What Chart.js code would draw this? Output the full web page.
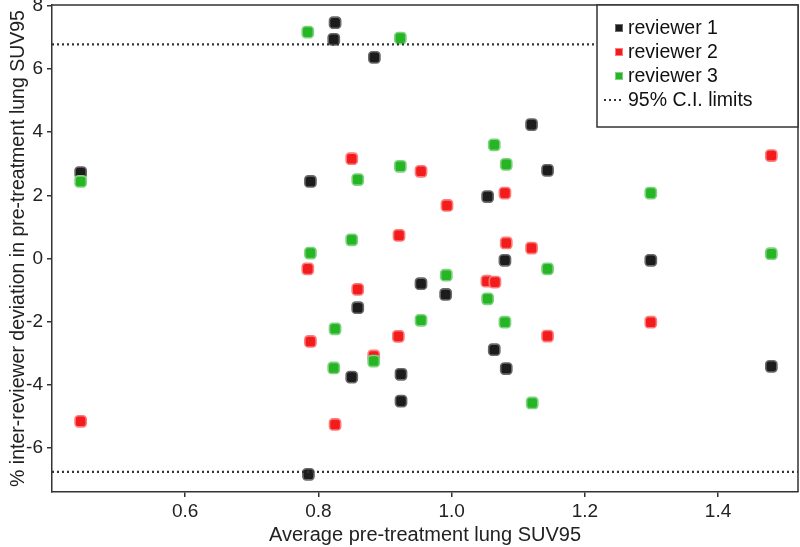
<!DOCTYPE html>
<html>
<head>
<meta charset="utf-8">
<script src="https://cdn.jsdelivr.net/npm/chart.js@4/dist/chart.umd.min.js"></script>
<style>
    html, body { margin: 0; padding: 0; background: #fff; }
    #wrap { width: 800px; height: 547px; position: relative; }
</style>
</head>
<body>
<div id="wrap"><canvas id="chart"></canvas></div>
<script>
// values
var r1X = [0.443, 0.825, 0.823, 0.884, 0.788, 1.120, 1.144, 1.054, 1.080, 1.299, 0.954, 0.991, 0.859, 1.064, 1.082, 1.480, 0.924, 0.850, 0.924, 0.785];
var r1Y = [2.72, 7.47, 6.94, 6.37, 2.44, 4.24, 2.79, 1.96, -0.06, -0.06, -0.80, -1.14, -1.56, -2.89, -3.49, -3.42, -3.67, -3.76, -4.52, -6.84];

var r2X = [0.443, 0.850, 0.784, 0.859, 0.788, 0.883, 0.920, 0.825, 0.921, 0.954, 0.993, 1.080, 1.082, 1.120, 1.480, 1.053, 1.065, 1.144, 1.299];
var r2Y = [-5.16, 3.16, -0.33, -0.98, -2.63, -3.09, -2.47, -5.26, 0.73, 2.76, 1.68, 2.07, 0.49, 0.33, 3.26, -0.72, -0.75, -2.46, -2.02];

var r3X = [0.443, 0.784, 0.923, 0.859, 0.850, 0.788, 0.923, 1.064, 1.082, 1.299, 1.480, 0.992, 1.144, 1.054, 0.954, 1.080, 1.121, 0.825, 0.823, 0.883];
var r3Y = [2.44, 7.17, 6.98, 2.50, 0.59, 0.17, 2.92, 3.60, 2.98, 2.07, 0.15, -0.53, -0.33, -1.28, -1.96, -2.02, -4.58, -2.23, -3.47, -3.25];

var limitY = [6.78, -6.76];   // 95% C.I. limits

var xRange = [0.40, 1.52];
var yRange = [-7.4, 8.03];
var xTicks = [0.6, 0.8, 1.0, 1.2, 1.4];
var yTicks = [-6, -4, -2, 0, 2, 4, 6, 8];

var seriesNames = ['reviewer 1', 'reviewer 2', 'reviewer 3', '95% C.I. limits'];

var FONT = "'Liberation Sans', Arial, Helvetica, sans-serif";
var INK = '#222';

function pairs(xs, ys) {
    return xs.map(function (x, i) {
        return {x: x, y: ys[i]};
    });
}

function limitLine(y) {
    return [{x: xRange[0], y: y}, {x: xRange[1], y: y}];
}

var markerStyles = [
    {fill: '#1c1c1c', edge: '#6a6a6a'},
    {fill: '#f21c1c', edge: '#ff7a7a'},
    {fill: '#25b525', edge: '#7fd27f'}
];

function scatterSet(label, data, st, order) {
    return {
        type: 'scatter',
        label: label,
        data: data,
        order: order,
        pointStyle: 'rectRounded',
        pointRadius: 6.5,
        pointBorderWidth: 1.6,
        backgroundColor: st.fill,
        borderColor: st.edge
    };
}

function lineSet(data) {
    return {
        type: 'line',
        label: seriesNames[3],
        data: data,
        order: 0,
        borderColor: '#333',
        borderWidth: 2.2,
        borderDash: [2, 3],
        pointRadius: 0,
        fill: false
    };
}

// no automatic room for tick labels, the plot box is set by layout padding
function noPad(axis) {
    axis.paddingTop = 0;
    axis.paddingBottom = 0;
    axis.paddingLeft = 0;
    axis.paddingRight = 0;
}

// frame on top/right plus the boxed legend inside the plot
var frameLegend = {
    id: 'frameLegend',
    afterDraw: function (chart) {
        var ctx = chart.ctx;
        var a = chart.chartArea;
        ctx.save();
        ctx.strokeStyle = '#333';
        ctx.lineWidth = 1.5;
        ctx.beginPath();
        ctx.moveTo(a.left, a.top);
        ctx.lineTo(a.right, a.top);
        ctx.lineTo(a.right, a.bottom);
        ctx.stroke();

        var bx = a.right - 201, by = a.top, bw = 201, bh = 122;
        ctx.fillStyle = '#fff';
        ctx.fillRect(bx, by, bw, bh);
        ctx.lineWidth = 1.5;
        ctx.strokeRect(bx, by, bw, bh);

        ctx.font = '19.5px ' + FONT;
        ctx.textBaseline = 'middle';
        ctx.textAlign = 'left';
        var rowY = by + 23;
        for (var i = 0; i < 4; i++) {
            var cy = rowY + i * 24;
            if (i < 3) {
                ctx.fillStyle = markerStyles[i].fill;
                ctx.strokeStyle = markerStyles[i].edge;
                ctx.lineWidth = 1;
                ctx.fillRect(bx + 18.5, cy - 3.5, 7, 7);
                ctx.strokeRect(bx + 18.5, cy - 3.5, 7, 7);
            } else {
                ctx.strokeStyle = '#333';
                ctx.lineWidth = 2.2;
                ctx.setLineDash([2, 3]);
                ctx.beginPath();
                ctx.moveTo(bx + 7, cy);
                ctx.lineTo(bx + 26, cy);
                ctx.stroke();
                ctx.setLineDash([]);
            }
            ctx.fillStyle = '#111';
            ctx.fillText(seriesNames[i], bx + 31, cy + 1);
        }
        ctx.restore();
    }
};

new Chart(document.getElementById('chart').getContext('2d'), {
    data: {
        datasets: [
            scatterSet(seriesNames[0], pairs(r1X, r1Y), markerStyles[0], 3),
            scatterSet(seriesNames[1], pairs(r2X, r2Y), markerStyles[1], 2),
            scatterSet(seriesNames[2], pairs(r3X, r3Y), markerStyles[2], 1),
            lineSet(limitLine(limitY[0])),
            lineSet(limitLine(limitY[1]))
        ]
    },
    options: {
        responsive: true,
        maintainAspectRatio: false,
        animation: false,
        layout: {autoPadding: false, padding: {top: 5, right: 2, left: 0, bottom: 0}},
        plugins: {
            legend: {display: false},
            tooltip: {enabled: false}
        },
        scales: {
            x: {
                type: 'linear',
                min: xRange[0],
                max: xRange[1],
                afterBuildTicks: function (axis) {
                    axis.ticks = xTicks.map(function (v) { return {value: v}; });
                },
                afterFit: function (axis) {
                    axis.height = 55;
                    noPad(axis);
                },
                grid: {drawOnChartArea: false, drawTicks: true, tickLength: 5, color: '#333', lineWidth: 1.5},
                border: {display: true, color: '#333', width: 1.5},
                ticks: {
                    color: INK,
                    padding: 3,
                    font: {family: FONT, size: 19},
                    callback: function (v) { return Number(v).toFixed(1); }
                },
                title: {
                    display: true,
                    text: 'Average pre-treatment lung SUV95',
                    color: INK,
                    font: {family: FONT, size: 20},
                    padding: {top: 1, bottom: 0}
                }
            },
            y: {
                type: 'linear',
                min: yRange[0],
                max: yRange[1],
                afterBuildTicks: function (axis) {
                    axis.ticks = yTicks.map(function (v) { return {value: v}; });
                },
                afterFit: function (axis) {
                    axis.width = 52;
                    noPad(axis);
                },
                grid: {drawOnChartArea: false, drawTicks: true, tickLength: 5, color: '#333', lineWidth: 1.5},
                border: {display: true, color: '#333', width: 1.5},
                ticks: {
                    color: INK,
                    padding: 4,
                    font: {family: FONT, size: 19},
                    callback: function (v) { return String(v); }
                },
                title: {
                    display: true,
                    text: '% inter-reviewer deviation in pre-treatment lung SUV95',
                    color: INK,
                    font: {family: FONT, size: 19.5},
                    padding: {top: 7, bottom: 0}
                }
            }
        }
    },
    plugins: [frameLegend]
});
</script>
</body>
</html>
